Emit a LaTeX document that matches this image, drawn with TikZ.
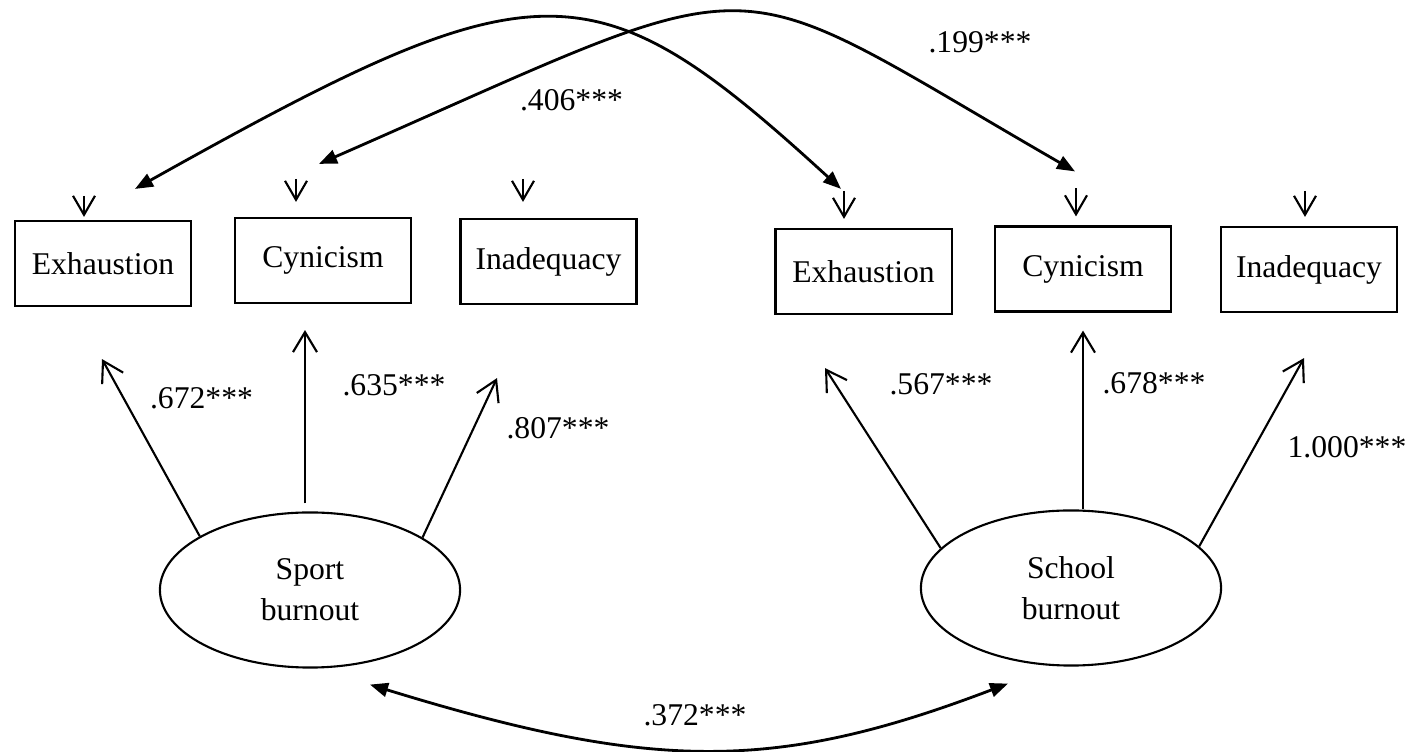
\documentclass[tikz,border=0pt]{standalone}
\usepackage{fontspec}
\setmainfont{Liberation Serif}
\usetikzlibrary{positioning,shapes.geometric,arrows.meta}

\begin{document}
\begin{tikzpicture}[
    x=0.01cm, y=-0.01cm,
    font=\fontsize{9}{11.7}\selectfont,
    box/.style={
        rectangle,
        draw=black,
        line width=0.6pt,
        minimum width=1.76cm,
        minimum height=0.85cm,
        text centered,
        align=center
    },
    latent/.style={
        ellipse,
        draw=black,
        line width=0.6pt,
        minimum width=3cm,
        minimum height=1.55cm,
        inner sep=0pt,
        text centered,
        align=center
    },
    load/.style={-{Straight Barb[length=2mm,width=2.4mm]}, line width=0.6pt},
    err/.style={-{Straight Barb[length=1.9mm,width=2.2mm]}, line width=0.6pt},
    cov/.style={{Triangle[length=1.8mm,width=1.4mm]}-{Triangle[length=1.8mm,width=1.4mm]}, line width=0.8pt},
    coef/.style={inner sep=0pt},
]
    \useasboundingbox (0,0) rectangle (1411,752);

    % indicators
    \node (ex1) [box] at (103,263.5) {Exhaustion};
    \node (cy1) [box] at (323,260.5) {Cynicism};
    \node (in1) [box] at (548.5,261.5) {Inadequacy};
    \node (ex2) [box] at (863.5,271.5) {Exhaustion};
    \node (cy2) [box] at (1083,269) {Cynicism};
    \node (in2) [box] at (1309,269.5) {Inadequacy};

    % latent factors
    \node (sport) [latent] at (310,590) {Sport\\burnout};
    \node (school) [latent] at (1071,588) {School\\burnout};

    % error terms
    \draw[err] ([shift={(-19,-24)}]ex1.north) -- ([shift={(-19,-3)}]ex1.north);
    \draw[err] ([shift={(-27,-38)}]cy1.north) -- ([shift={(-27,-15)}]cy1.north);
    \draw[err] ([shift={(-25.5,-39)}]in1.north) -- ([shift={(-25.5,-16)}]in1.north);
    \draw[err] ([shift={(-19.5,-37)}]ex2.north) -- ([shift={(-19.5,-9)}]ex2.north);
    \draw[err] ([shift={(-7,-37)}]cy2.north) -- ([shift={(-7,-9)}]cy2.north);
    \draw[err] ([shift={(-4,-35)}]in2.north) -- ([shift={(-4,-9)}]in2.north);

    % loadings
    \draw[load] (sport.154) -- ([shift={(-1,52)}]ex1.south);
    \draw[load] ([shift={(-5,-8)}]sport.north) -- ([shift={(-18,26)}]cy1.south);
    \draw[load] (sport.25) -- ([shift={(-51.5,73)}]in1.south);
    \draw[load] (school.163) -- ([shift={(-38.5,53)}]ex2.south);
    \draw[load] ([shift={(12,0)}]school.north) -- ([shift={(0,18)}]cy2.south);
    \draw[load] (school.18) -- ([shift={(-5,45)}]in2.south);

    % covariances
    \draw[cov] ([shift={(32,-31)}]ex1.north) .. controls (540,-38) and (593,-38) .. ([shift={(-22.5,-39)}]ex2.north);
    \draw[cov] ([shift={(-4,-53)}]cy1.north) .. controls (783,-39) and (710,-39) .. ([shift={(-8,-54)}]cy2.north);
    \draw[cov] ([shift={(60,16)}]sport.south) .. controls (654,772) and (776,772) .. ([shift={(-63,17)}]school.south);

    % coefficients
    \node (c1) [coef] at (571.5,100) {.406***};
    \node (c2) [coef] at (980,42) {.199***};
    \node (c3) [coef] at (201.5,398) {.672***};
    \node (c4) [coef] at (394,385) {.635***};
    \node (c5) [coef] at (558,428) {.807***};
    \node (c6) [coef] at (941,384) {.567***};
    \node (c7) [coef] at (1154,383) {.678***};
    \node (c8) [coef] at (1347,447) {1.000***};
    \node (c9) [coef] at (695,715) {.372***};
\end{tikzpicture}
\end{document}
